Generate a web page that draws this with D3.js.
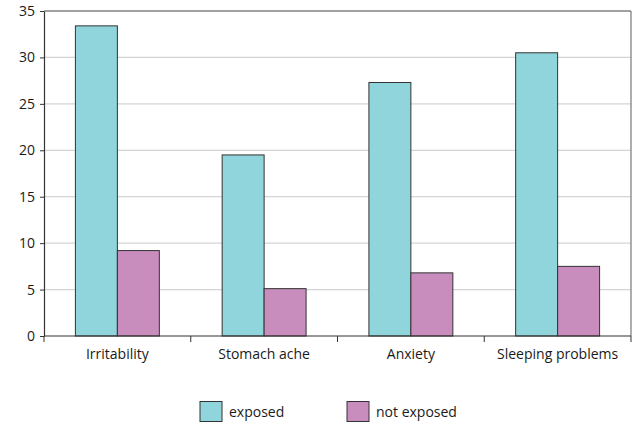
<!DOCTYPE html>
<html>
<head>
<meta charset="utf-8">
<script src="https://cdn.jsdelivr.net/npm/d3@7"></script>
<style>
  html, body { margin: 0; padding: 0; background: #fff; }
  svg { display: block; font-family: "Open Sans", "Noto Sans", sans-serif; }
</style>
</head>
<body>
<svg id="chart" width="638" height="425"></svg>
<script>
// Symptom categories and percentages per group
const categories = ["Irritability", "Stomach ache", "Anxiety", "Sleeping problems"];
const seriesNames = ["exposed", "not exposed"];
const exposed = [33.4, 19.5, 27.3, 30.5];
const notExposed = [9.2, 5.1, 6.8, 7.5];
const yTicks = [0, 5, 10, 15, 20, 25, 30, 35];
const colors = ["#8fd5db", "#c98dbd"];

const rows = categories.map((c, i) => ({ category: c, values: [exposed[i], notExposed[i]] }));

const svg = d3.select("#chart");
const margin = { left: 44, right: 7, top: 11, bottom: 89 };
const W = 638, H = 425;
const innerW = W - margin.left - margin.right;
const innerH = H - margin.top - margin.bottom;
const fontSize = 14;

const g = svg.append("g").attr("transform", `translate(${margin.left},${margin.top})`);

const x0 = d3.scaleBand().domain(categories).range([0, innerW]).padding(0);
const groupW = x0.bandwidth() * 0.572;
const x1 = d3.scaleBand().domain(seriesNames)
  .range([(x0.bandwidth() - groupW) / 2, (x0.bandwidth() + groupW) / 2]).padding(0);
const y = d3.scaleLinear().domain([0, 35]).range([innerH, 0]);

// horizontal gridlines
g.append("g").selectAll("line").data(yTicks.filter(t => t > 0 && t < 35)).join("line")
  .attr("x1", 0).attr("x2", innerW)
  .attr("y1", d => y(d)).attr("y2", d => y(d))
  .attr("stroke", "#d4d4d4").attr("stroke-width", 1.2);

// top and right frame lines
g.append("line").attr("x1", 0).attr("x2", innerW).attr("y1", 0).attr("y2", 0)
  .attr("stroke", "#444").attr("stroke-width", 1.2);
g.append("line").attr("x1", innerW).attr("x2", innerW).attr("y1", 0).attr("y2", innerH)
  .attr("stroke", "#777").attr("stroke-width", 1.2);

// bars
const groups = g.append("g").selectAll("g").data(rows).join("g")
  .attr("transform", d => `translate(${x0(d.category)},0)`);
groups.selectAll("rect").data(d => d.values.map((v, i) => ({ key: seriesNames[i], v, i }))).join("rect")
  .attr("x", d => x1(d.key))
  .attr("width", x1.bandwidth())
  .attr("y", d => y(d.v))
  .attr("height", d => y(0) - y(d.v))
  .attr("fill", d => colors[d.i])
  .attr("stroke", "#333").attr("stroke-width", 1);

// y axis
const yAxis = g.append("g")
  .call(d3.axisLeft(y).tickValues(yTicks).tickSize(4).tickPadding(5).tickSizeOuter(0));
yAxis.select(".domain").attr("stroke", "#333").attr("stroke-width", 1.2);
yAxis.selectAll(".tick line").attr("stroke", "#333");
yAxis.selectAll(".tick text").attr("font-size", fontSize).attr("fill", "#1a1a1a")
  .attr("font-family", "'Open Sans', 'Noto Sans', sans-serif");

// x axis with ticks at category boundaries
const xAxis = g.append("g").attr("transform", `translate(0,${innerH})`);
xAxis.append("line").attr("x1", 0).attr("x2", innerW).attr("y1", 0).attr("y2", 0)
  .attr("stroke", "#333").attr("stroke-width", 1.2);
const bounds = categories.map(c => x0(c)).concat([innerW]);
xAxis.selectAll(".bt").data(bounds).join("line").attr("class", "bt")
  .attr("x1", d => d).attr("x2", d => d).attr("y1", 0).attr("y2", 6)
  .attr("stroke", "#333").attr("stroke-width", 1);
xAxis.selectAll("text").data(categories).join("text")
  .attr("x", d => x0(d) + x0.bandwidth() / 2)
  .attr("y", 23)
  .attr("text-anchor", "middle")
  .attr("font-size", fontSize).attr("fill", "#1a1a1a")
  .text(d => d);

// legend
const legend = svg.append("g");
const legendX = [200, 347];
seriesNames.forEach((name, i) => {
  legend.append("rect").attr("x", legendX[i]).attr("y", 401.5).attr("width", 22).attr("height", 20)
    .attr("fill", colors[i]).attr("stroke", "#333").attr("stroke-width", 1);
  legend.append("text").attr("x", legendX[i] + 29).attr("y", 416.5)
    .attr("font-size", fontSize).attr("fill", "#1a1a1a").text(name);
});
</script>
</body>
</html>
